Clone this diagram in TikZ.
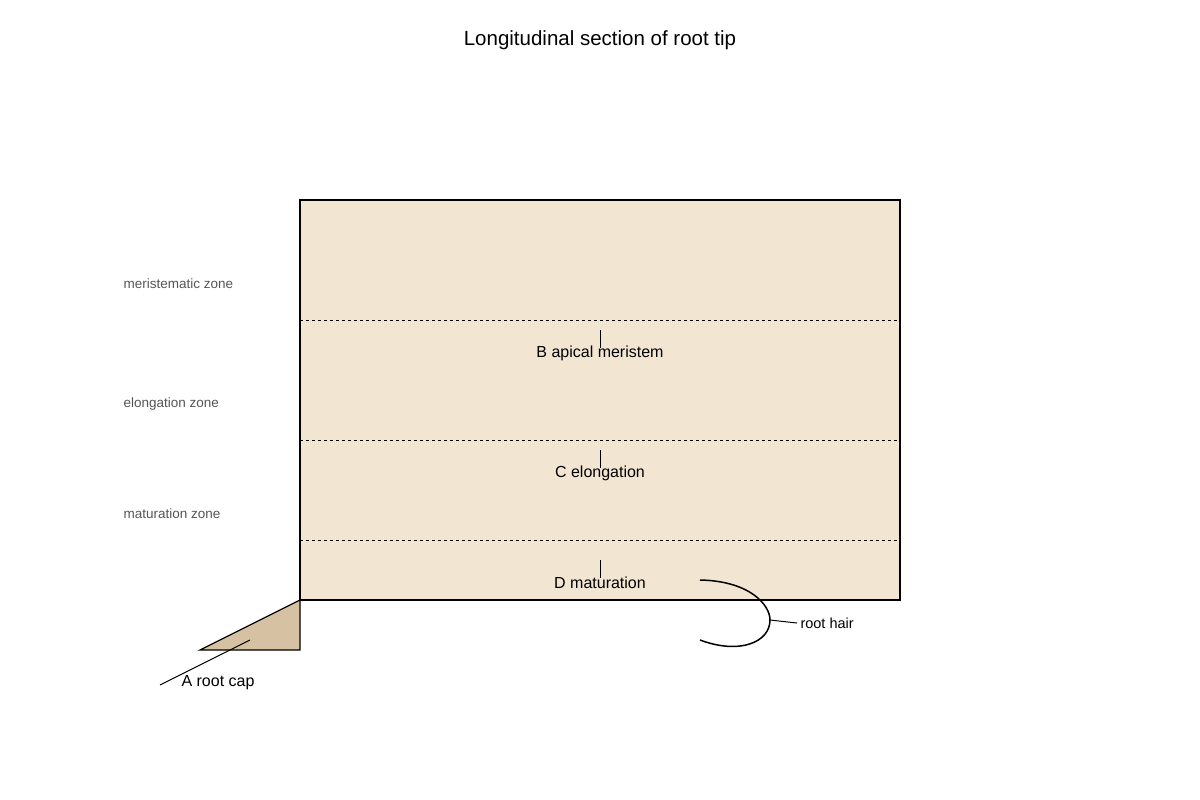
\documentclass[tikz,border=0pt]{standalone}
\usepackage{fontspec}
\setmainfont{Liberation Sans}
\definecolor{rootfill}{HTML}{F2E6D3}
\definecolor{capfill}{HTML}{D6C2A3}
\definecolor{zonegray}{HTML}{555555}

\begin{document}
\begin{tikzpicture}[
  x=1pt, y=-1pt,
  zone line/.style={
      dashed,
      line width=0.9pt
    },
  zone label/.style={
      anchor=west,
      text=zonegray,
      font=\fontsize{13.5}{16}\selectfont
    },
  region/.style={
      anchor=center,
      font=\fontsize{16}{19}\selectfont
    },
  tick/.style={
      line width=0.7pt
    },
  outline/.style={
      line join=miter,
      line width=1.2pt
    }]
  \useasboundingbox (0,0) rectangle (1200,800);
  \node [font=\fontsize{20.5}{24}\selectfont] (title) at (600,40) {Longitudinal section of root tip};

  % root body
  \filldraw [outline, fill=rootfill] (300,200) rectangle (900,600);
  \coordinate (body nw) at (300,200);
  \coordinate (body sw) at (300,600);

  \draw [zone line] (300,320) -- (897,320);
  \draw [zone line] (300,440) -- (897,440);
  \draw [zone line] (300,540) -- (897,540);

  \node [zone label] (meri) at (120,284) {meristematic zone};
  \node [zone label] (elong) at (120,404) {elongation zone};
  \node [zone label] (matur) at (120,514) {maturation zone};

  \node [region] (B) at (600,353) {B apical meristem};
  \node [region] (C) at (600,473) {C elongation};
  \node [region] (D) at (600,583) {D maturation};
  \draw [tick] (600,330) -- (600,348);
  \draw [tick] (600,450) -- (600,468);
  \draw [tick] (600,560) -- (600,578);

  % root cap
  \coordinate (cap tip) at (200,650);
  \coordinate (cap base) at (300,650);
  \filldraw [outline, fill=capfill] (body sw) -- (cap base) -- (cap tip) -- cycle;
  \node [region, anchor=west] (A) at (178,683) {A root cap};
  \coordinate (A end) at (160,685);
  \coordinate (cap in) at (250,640);
  \draw [tick, line width=1pt] (A end) -- (cap in);

  % root hair
  \coordinate (hair top) at (700,580);
  \coordinate (hair mid) at (770,620);
  \coordinate (hair bot) at (700,640);
  \draw [line width=1.5pt] (hair top) .. controls (750,581) and (770,605) .. (hair mid)
    .. controls (770,642) and (740,655) .. (hair bot);
  \node [anchor=west, font=\fontsize{14.5}{17}\selectfont] (hair) at (797,623) {root hair};
  \draw [tick, line width=1pt] (hair mid) -- (hair.west);
\end{tikzpicture}
\end{document}
